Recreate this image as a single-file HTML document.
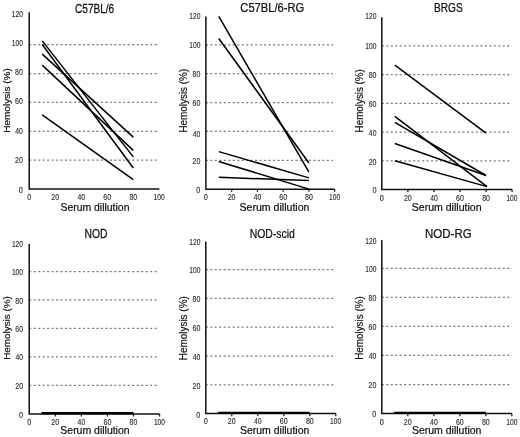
<!DOCTYPE html><html><head><meta charset="utf-8"><style>html,body{margin:0;padding:0;background:#fff;}svg{display:block;will-change:transform;filter:blur(0.3px);}text{font-family:"Liberation Sans",sans-serif;}</style></head><body>
<svg width="520" height="437" viewBox="0 0 520 437">
<rect width="520" height="437" fill="#fff"/>
<line x1="29.1" y1="160.2" x2="157.8" y2="160.2" stroke="#808080" stroke-width="1.25" stroke-dasharray="2.2 2.28"/>
<line x1="29.1" y1="131.3" x2="157.8" y2="131.3" stroke="#808080" stroke-width="1.25" stroke-dasharray="2.2 2.28"/>
<line x1="29.1" y1="102.4" x2="157.8" y2="102.4" stroke="#808080" stroke-width="1.25" stroke-dasharray="2.2 2.28"/>
<line x1="29.1" y1="73.5" x2="157.8" y2="73.5" stroke="#808080" stroke-width="1.25" stroke-dasharray="2.2 2.28"/>
<line x1="29.1" y1="44.6" x2="157.8" y2="44.6" stroke="#808080" stroke-width="1.25" stroke-dasharray="2.2 2.28"/>
<path d="M29.2 12.2 V189.1 H159.3" fill="none" stroke="#111" stroke-width="1.5"/>
<line x1="42.21" y1="40.9" x2="133.28" y2="156.9" stroke="#000" stroke-width="1.5"/>
<line x1="42.21" y1="44.5" x2="133.28" y2="168" stroke="#000" stroke-width="1.5"/>
<line x1="42.21" y1="54.1" x2="133.28" y2="137.1" stroke="#000" stroke-width="1.5"/>
<line x1="42.21" y1="65.1" x2="133.28" y2="150.4" stroke="#000" stroke-width="1.5"/>
<line x1="42.21" y1="114.8" x2="133.28" y2="179.7" stroke="#000" stroke-width="1.5"/>
<text transform="translate(11.69,16.62) scale(0.7902,1)" font-size="8.475" fill="#2a2a2a" stroke="#2a2a2a" stroke-width="0.12">120</text>
<text transform="translate(11.69,45.72) scale(0.7902,1)" font-size="8.475" fill="#2a2a2a" stroke="#2a2a2a" stroke-width="0.12">100</text>
<text transform="translate(15.1,74.92) scale(0.8249,1)" font-size="8.475" fill="#2a2a2a" stroke="#2a2a2a" stroke-width="0.12">80</text>
<text transform="translate(15.04,104.32) scale(0.8313,1)" font-size="8.475" fill="#2a2a2a" stroke="#2a2a2a" stroke-width="0.12">60</text>
<text transform="translate(15.24,134.12) scale(0.8091,1)" font-size="8.475" fill="#2a2a2a" stroke="#2a2a2a" stroke-width="0.12">40</text>
<text transform="translate(15.05,163.22) scale(0.8305,1)" font-size="8.475" fill="#2a2a2a" stroke="#2a2a2a" stroke-width="0.12">20</text>
<text transform="translate(18.81,192.92) scale(0.8640,1)" font-size="8.475" fill="#2a2a2a" stroke="#2a2a2a" stroke-width="0.12">0</text>
<text transform="translate(27.16,200.12) scale(0.8640,1)" font-size="8.475" fill="#2a2a2a" stroke="#2a2a2a" stroke-width="0.12">0</text>
<text transform="translate(51.27,200.12) scale(0.8305,1)" font-size="8.475" fill="#2a2a2a" stroke="#2a2a2a" stroke-width="0.12">20</text>
<text transform="translate(77.48,200.12) scale(0.8091,1)" font-size="8.475" fill="#2a2a2a" stroke="#2a2a2a" stroke-width="0.12">40</text>
<text transform="translate(103.3,200.12) scale(0.8313,1)" font-size="8.475" fill="#2a2a2a" stroke="#2a2a2a" stroke-width="0.12">60</text>
<text transform="translate(129.38,200.12) scale(0.8249,1)" font-size="8.475" fill="#2a2a2a" stroke="#2a2a2a" stroke-width="0.12">80</text>
<text transform="translate(153.59,200.12) scale(0.7902,1)" font-size="8.475" fill="#2a2a2a" stroke="#2a2a2a" stroke-width="0.12">100</text>
<text transform="translate(75.09,12.58) scale(0.8253,1)" font-size="12.177" fill="#111" stroke="#111" stroke-width="0.25">C57BL/6</text>
<text transform="translate(9.85,132.82) rotate(-90) scale(1.0188,1)" font-size="9.861" fill="#111" stroke="#111" stroke-width="0.2">Hemolysis (%)</text>
<text transform="translate(60.42,211.19) scale(0.9359,1)" font-size="11.156" fill="#111" stroke="#111" stroke-width="0.22">Serum dillution</text>
<line x1="205.8" y1="160.32" x2="333.1" y2="160.32" stroke="#808080" stroke-width="1.25" stroke-dasharray="2.2 2.28"/>
<line x1="205.8" y1="131.44" x2="333.1" y2="131.44" stroke="#808080" stroke-width="1.25" stroke-dasharray="2.2 2.28"/>
<line x1="205.8" y1="102.56" x2="333.1" y2="102.56" stroke="#808080" stroke-width="1.25" stroke-dasharray="2.2 2.28"/>
<line x1="205.8" y1="73.68" x2="333.1" y2="73.68" stroke="#808080" stroke-width="1.25" stroke-dasharray="2.2 2.28"/>
<line x1="205.8" y1="44.8" x2="333.1" y2="44.8" stroke="#808080" stroke-width="1.25" stroke-dasharray="2.2 2.28"/>
<path d="M205.9 16.5 V189.2 H334.6" fill="none" stroke="#111" stroke-width="1.5"/>
<line x1="231.66" y1="189.2" x2="231.66" y2="191.8" stroke="#111" stroke-width="1.2"/>
<line x1="257.42" y1="189.2" x2="257.42" y2="191.8" stroke="#111" stroke-width="1.2"/>
<line x1="283.18" y1="189.2" x2="283.18" y2="191.8" stroke="#111" stroke-width="1.2"/>
<line x1="308.94" y1="189.2" x2="308.94" y2="191.8" stroke="#111" stroke-width="1.2"/>
<line x1="334.7" y1="189.2" x2="334.7" y2="191.8" stroke="#111" stroke-width="1.2"/>
<line x1="218.78" y1="16.4" x2="308.94" y2="172.1" stroke="#000" stroke-width="1.5"/>
<line x1="218.78" y1="38.5" x2="308.94" y2="163" stroke="#000" stroke-width="1.5"/>
<line x1="218.78" y1="151.6" x2="308.94" y2="177.9" stroke="#000" stroke-width="1.5"/>
<line x1="218.78" y1="161.5" x2="308.94" y2="189.1" stroke="#000" stroke-width="1.5"/>
<line x1="218.78" y1="177.3" x2="308.94" y2="180.6" stroke="#000" stroke-width="1.5"/>
<text transform="translate(189.19,18.72) scale(0.7902,1)" font-size="8.475" fill="#2a2a2a" stroke="#2a2a2a" stroke-width="0.12">120</text>
<text transform="translate(189.19,48.22) scale(0.7902,1)" font-size="8.475" fill="#2a2a2a" stroke="#2a2a2a" stroke-width="0.12">100</text>
<text transform="translate(192.6,77.32) scale(0.8249,1)" font-size="8.475" fill="#2a2a2a" stroke="#2a2a2a" stroke-width="0.12">80</text>
<text transform="translate(192.54,106.12) scale(0.8313,1)" font-size="8.475" fill="#2a2a2a" stroke="#2a2a2a" stroke-width="0.12">60</text>
<text transform="translate(192.74,136.92) scale(0.8091,1)" font-size="8.475" fill="#2a2a2a" stroke="#2a2a2a" stroke-width="0.12">40</text>
<text transform="translate(192.55,164.12) scale(0.8305,1)" font-size="8.475" fill="#2a2a2a" stroke="#2a2a2a" stroke-width="0.12">20</text>
<text transform="translate(196.31,192.82) scale(0.8640,1)" font-size="8.475" fill="#2a2a2a" stroke="#2a2a2a" stroke-width="0.12">0</text>
<text transform="translate(203.86,200.12) scale(0.8640,1)" font-size="8.475" fill="#2a2a2a" stroke="#2a2a2a" stroke-width="0.12">0</text>
<text transform="translate(227.71,200.12) scale(0.8305,1)" font-size="8.475" fill="#2a2a2a" stroke="#2a2a2a" stroke-width="0.12">20</text>
<text transform="translate(253.66,200.12) scale(0.8091,1)" font-size="8.475" fill="#2a2a2a" stroke="#2a2a2a" stroke-width="0.12">40</text>
<text transform="translate(279.22,200.12) scale(0.8313,1)" font-size="8.475" fill="#2a2a2a" stroke="#2a2a2a" stroke-width="0.12">60</text>
<text transform="translate(305.04,200.12) scale(0.8249,1)" font-size="8.475" fill="#2a2a2a" stroke="#2a2a2a" stroke-width="0.12">80</text>
<text transform="translate(328.99,200.12) scale(0.7902,1)" font-size="8.475" fill="#2a2a2a" stroke="#2a2a2a" stroke-width="0.12">100</text>
<text transform="translate(240.33,11.67) scale(0.8932,1)" font-size="12.517" fill="#111" stroke="#111" stroke-width="0.25">C57BL/6-RG</text>
<text transform="translate(186.97,132.61) rotate(-90) scale(0.9254,1)" font-size="10.718" fill="#111" stroke="#111" stroke-width="0.2">Hemolysis (%)</text>
<text transform="translate(239.51,210.89) scale(0.9497,1)" font-size="11.156" fill="#111" stroke="#111" stroke-width="0.22">Serum dillution</text>
<line x1="381.7" y1="160.75" x2="510.6" y2="160.75" stroke="#808080" stroke-width="1.25" stroke-dasharray="2.2 2.28"/>
<line x1="381.7" y1="132" x2="510.6" y2="132" stroke="#808080" stroke-width="1.25" stroke-dasharray="2.2 2.28"/>
<line x1="381.7" y1="103.25" x2="510.6" y2="103.25" stroke="#808080" stroke-width="1.25" stroke-dasharray="2.2 2.28"/>
<line x1="381.7" y1="74.5" x2="510.6" y2="74.5" stroke="#808080" stroke-width="1.25" stroke-dasharray="2.2 2.28"/>
<line x1="381.7" y1="45.75" x2="510.6" y2="45.75" stroke="#808080" stroke-width="1.25" stroke-dasharray="2.2 2.28"/>
<path d="M381.8 17.2 V189.5 H512.1" fill="none" stroke="#111" stroke-width="1.5"/>
<line x1="407.86" y1="189.5" x2="407.86" y2="192.1" stroke="#111" stroke-width="1.2"/>
<line x1="433.92" y1="189.5" x2="433.92" y2="192.1" stroke="#111" stroke-width="1.2"/>
<line x1="459.98" y1="189.5" x2="459.98" y2="192.1" stroke="#111" stroke-width="1.2"/>
<line x1="486.04" y1="189.5" x2="486.04" y2="192.1" stroke="#111" stroke-width="1.2"/>
<line x1="512.1" y1="189.5" x2="512.1" y2="192.1" stroke="#111" stroke-width="1.2"/>
<line x1="394.83" y1="65.1" x2="486.04" y2="133.1" stroke="#000" stroke-width="1.5"/>
<line x1="394.83" y1="116.4" x2="487" y2="186.6" stroke="#000" stroke-width="1.5"/>
<line x1="394.83" y1="122.4" x2="486.04" y2="175.5" stroke="#000" stroke-width="1.5"/>
<line x1="394.83" y1="143.5" x2="486.04" y2="175.5" stroke="#000" stroke-width="1.5"/>
<line x1="394.83" y1="160.7" x2="487" y2="186.6" stroke="#000" stroke-width="1.5"/>
<text transform="translate(365.29,19.12) scale(0.7902,1)" font-size="8.475" fill="#2a2a2a" stroke="#2a2a2a" stroke-width="0.12">120</text>
<text transform="translate(365.29,48.92) scale(0.7902,1)" font-size="8.475" fill="#2a2a2a" stroke="#2a2a2a" stroke-width="0.12">100</text>
<text transform="translate(368.7,78.22) scale(0.8249,1)" font-size="8.475" fill="#2a2a2a" stroke="#2a2a2a" stroke-width="0.12">80</text>
<text transform="translate(368.64,106.62) scale(0.8313,1)" font-size="8.475" fill="#2a2a2a" stroke="#2a2a2a" stroke-width="0.12">60</text>
<text transform="translate(368.84,136.02) scale(0.8091,1)" font-size="8.475" fill="#2a2a2a" stroke="#2a2a2a" stroke-width="0.12">40</text>
<text transform="translate(368.65,164.52) scale(0.8305,1)" font-size="8.475" fill="#2a2a2a" stroke="#2a2a2a" stroke-width="0.12">20</text>
<text transform="translate(372.41,192.92) scale(0.8640,1)" font-size="8.475" fill="#2a2a2a" stroke="#2a2a2a" stroke-width="0.12">0</text>
<text transform="translate(379.76,200.72) scale(0.8640,1)" font-size="8.475" fill="#2a2a2a" stroke="#2a2a2a" stroke-width="0.12">0</text>
<text transform="translate(403.91,200.72) scale(0.8305,1)" font-size="8.475" fill="#2a2a2a" stroke="#2a2a2a" stroke-width="0.12">20</text>
<text transform="translate(430.16,200.72) scale(0.8091,1)" font-size="8.475" fill="#2a2a2a" stroke="#2a2a2a" stroke-width="0.12">40</text>
<text transform="translate(456.02,200.72) scale(0.8313,1)" font-size="8.475" fill="#2a2a2a" stroke="#2a2a2a" stroke-width="0.12">60</text>
<text transform="translate(482.14,200.72) scale(0.8249,1)" font-size="8.475" fill="#2a2a2a" stroke="#2a2a2a" stroke-width="0.12">80</text>
<text transform="translate(506.39,200.72) scale(0.7902,1)" font-size="8.475" fill="#2a2a2a" stroke="#2a2a2a" stroke-width="0.12">100</text>
<text transform="translate(433.97,11.88) scale(0.8336,1)" font-size="12.147" fill="#111" stroke="#111" stroke-width="0.25">BRGS</text>
<text transform="translate(362.82,132.41) rotate(-90) scale(0.9368,1)" font-size="10.504" fill="#111" stroke="#111" stroke-width="0.2">Hemolysis (%)</text>
<text transform="translate(411.71,210.89) scale(0.9469,1)" font-size="11.156" fill="#111" stroke="#111" stroke-width="0.22">Serum dillution</text>
<line x1="29.1" y1="385.42" x2="158.1" y2="385.42" stroke="#808080" stroke-width="1.25" stroke-dasharray="2.2 2.28"/>
<line x1="29.1" y1="356.94" x2="158.1" y2="356.94" stroke="#808080" stroke-width="1.25" stroke-dasharray="2.2 2.28"/>
<line x1="29.1" y1="328.46" x2="158.1" y2="328.46" stroke="#808080" stroke-width="1.25" stroke-dasharray="2.2 2.28"/>
<line x1="29.1" y1="299.98" x2="158.1" y2="299.98" stroke="#808080" stroke-width="1.25" stroke-dasharray="2.2 2.28"/>
<line x1="29.1" y1="271.5" x2="158.1" y2="271.5" stroke="#808080" stroke-width="1.25" stroke-dasharray="2.2 2.28"/>
<path d="M29.2 244 V413.9 H159.6" fill="none" stroke="#111" stroke-width="1.5"/>
<line x1="55.28" y1="413.9" x2="55.28" y2="416.5" stroke="#111" stroke-width="1.2"/>
<line x1="81.36" y1="413.9" x2="81.36" y2="416.5" stroke="#111" stroke-width="1.2"/>
<line x1="107.44" y1="413.9" x2="107.44" y2="416.5" stroke="#111" stroke-width="1.2"/>
<line x1="133.52" y1="413.9" x2="133.52" y2="416.5" stroke="#111" stroke-width="1.2"/>
<line x1="159.6" y1="413.9" x2="159.6" y2="416.5" stroke="#111" stroke-width="1.2"/>
<line x1="41.44" y1="413.1" x2="133.52" y2="413.1" stroke="#000" stroke-width="2.2"/>
<text transform="translate(11.89,247.32) scale(0.7902,1)" font-size="8.475" fill="#2a2a2a" stroke="#2a2a2a" stroke-width="0.12">120</text>
<text transform="translate(11.89,275.12) scale(0.7902,1)" font-size="8.475" fill="#2a2a2a" stroke="#2a2a2a" stroke-width="0.12">100</text>
<text transform="translate(15.3,303.72) scale(0.8249,1)" font-size="8.475" fill="#2a2a2a" stroke="#2a2a2a" stroke-width="0.12">80</text>
<text transform="translate(15.24,332.12) scale(0.8313,1)" font-size="8.475" fill="#2a2a2a" stroke="#2a2a2a" stroke-width="0.12">60</text>
<text transform="translate(15.44,360.22) scale(0.8091,1)" font-size="8.475" fill="#2a2a2a" stroke="#2a2a2a" stroke-width="0.12">40</text>
<text transform="translate(15.25,389.42) scale(0.8305,1)" font-size="8.475" fill="#2a2a2a" stroke="#2a2a2a" stroke-width="0.12">20</text>
<text transform="translate(19.01,417.52) scale(0.8640,1)" font-size="8.475" fill="#2a2a2a" stroke="#2a2a2a" stroke-width="0.12">0</text>
<text transform="translate(27.16,425.12) scale(0.8640,1)" font-size="8.475" fill="#2a2a2a" stroke="#2a2a2a" stroke-width="0.12">0</text>
<text transform="translate(51.33,425.12) scale(0.8305,1)" font-size="8.475" fill="#2a2a2a" stroke="#2a2a2a" stroke-width="0.12">20</text>
<text transform="translate(77.6,425.12) scale(0.8091,1)" font-size="8.475" fill="#2a2a2a" stroke="#2a2a2a" stroke-width="0.12">40</text>
<text transform="translate(103.48,425.12) scale(0.8313,1)" font-size="8.475" fill="#2a2a2a" stroke="#2a2a2a" stroke-width="0.12">60</text>
<text transform="translate(129.62,425.12) scale(0.8249,1)" font-size="8.475" fill="#2a2a2a" stroke="#2a2a2a" stroke-width="0.12">80</text>
<text transform="translate(153.89,425.12) scale(0.7902,1)" font-size="8.475" fill="#2a2a2a" stroke="#2a2a2a" stroke-width="0.12">100</text>
<text transform="translate(84.45,237.88) scale(0.8345,1)" font-size="12.429" fill="#111" stroke="#111" stroke-width="0.25">NOD</text>
<text transform="translate(9.67,359.81) rotate(-90) scale(1.0137,1)" font-size="9.753" fill="#111" stroke="#111" stroke-width="0.2">Hemolysis (%)</text>
<text transform="translate(60.32,434.19) scale(0.9400,1)" font-size="11.156" fill="#111" stroke="#111" stroke-width="0.22">Serum dillution</text>
<line x1="205.7" y1="384.8" x2="334.3" y2="384.8" stroke="#808080" stroke-width="1.25" stroke-dasharray="2.2 2.28"/>
<line x1="205.7" y1="356" x2="334.3" y2="356" stroke="#808080" stroke-width="1.25" stroke-dasharray="2.2 2.28"/>
<line x1="205.7" y1="327.2" x2="334.3" y2="327.2" stroke="#808080" stroke-width="1.25" stroke-dasharray="2.2 2.28"/>
<line x1="205.7" y1="298.4" x2="334.3" y2="298.4" stroke="#808080" stroke-width="1.25" stroke-dasharray="2.2 2.28"/>
<line x1="205.7" y1="269.6" x2="334.3" y2="269.6" stroke="#808080" stroke-width="1.25" stroke-dasharray="2.2 2.28"/>
<path d="M205.8 241.5 V413.6 H335.8" fill="none" stroke="#111" stroke-width="1.5"/>
<line x1="231.8" y1="413.6" x2="231.8" y2="416.2" stroke="#111" stroke-width="1.2"/>
<line x1="257.8" y1="413.6" x2="257.8" y2="416.2" stroke="#111" stroke-width="1.2"/>
<line x1="283.8" y1="413.6" x2="283.8" y2="416.2" stroke="#111" stroke-width="1.2"/>
<line x1="309.8" y1="413.6" x2="309.8" y2="416.2" stroke="#111" stroke-width="1.2"/>
<line x1="335.8" y1="413.6" x2="335.8" y2="416.2" stroke="#111" stroke-width="1.2"/>
<line x1="218" y1="412.8" x2="309.8" y2="412.8" stroke="#000" stroke-width="2.2"/>
<text transform="translate(189.19,245.12) scale(0.7902,1)" font-size="8.475" fill="#2a2a2a" stroke="#2a2a2a" stroke-width="0.12">120</text>
<text transform="translate(189.19,273.22) scale(0.7902,1)" font-size="8.475" fill="#2a2a2a" stroke="#2a2a2a" stroke-width="0.12">100</text>
<text transform="translate(192.6,302.02) scale(0.8249,1)" font-size="8.475" fill="#2a2a2a" stroke="#2a2a2a" stroke-width="0.12">80</text>
<text transform="translate(192.54,330.92) scale(0.8313,1)" font-size="8.475" fill="#2a2a2a" stroke="#2a2a2a" stroke-width="0.12">60</text>
<text transform="translate(192.74,359.92) scale(0.8091,1)" font-size="8.475" fill="#2a2a2a" stroke="#2a2a2a" stroke-width="0.12">40</text>
<text transform="translate(192.55,388.82) scale(0.8305,1)" font-size="8.475" fill="#2a2a2a" stroke="#2a2a2a" stroke-width="0.12">20</text>
<text transform="translate(196.31,417.52) scale(0.8640,1)" font-size="8.475" fill="#2a2a2a" stroke="#2a2a2a" stroke-width="0.12">0</text>
<text transform="translate(203.76,424.12) scale(0.8640,1)" font-size="8.475" fill="#2a2a2a" stroke="#2a2a2a" stroke-width="0.12">0</text>
<text transform="translate(227.85,424.12) scale(0.8305,1)" font-size="8.475" fill="#2a2a2a" stroke="#2a2a2a" stroke-width="0.12">20</text>
<text transform="translate(254.04,424.12) scale(0.8091,1)" font-size="8.475" fill="#2a2a2a" stroke="#2a2a2a" stroke-width="0.12">40</text>
<text transform="translate(279.84,424.12) scale(0.8313,1)" font-size="8.475" fill="#2a2a2a" stroke="#2a2a2a" stroke-width="0.12">60</text>
<text transform="translate(305.9,424.12) scale(0.8249,1)" font-size="8.475" fill="#2a2a2a" stroke="#2a2a2a" stroke-width="0.12">80</text>
<text transform="translate(330.09,424.12) scale(0.7902,1)" font-size="8.475" fill="#2a2a2a" stroke="#2a2a2a" stroke-width="0.12">100</text>
<text transform="translate(249.75,237.67) scale(0.7973,1)" font-size="13.061" fill="#111" stroke="#111" stroke-width="0.25">NOD-scid</text>
<text transform="translate(187.04,360.22) rotate(-90) scale(0.9571,1)" font-size="10.397" fill="#111" stroke="#111" stroke-width="0.2">Hemolysis (%)</text>
<text transform="translate(239.92,434.19) scale(0.9414,1)" font-size="11.156" fill="#111" stroke="#111" stroke-width="0.22">Serum dillution</text>
<line x1="381.7" y1="384.54" x2="510.4" y2="384.54" stroke="#808080" stroke-width="1.25" stroke-dasharray="2.2 2.28"/>
<line x1="381.7" y1="355.48" x2="510.4" y2="355.48" stroke="#808080" stroke-width="1.25" stroke-dasharray="2.2 2.28"/>
<line x1="381.7" y1="326.42" x2="510.4" y2="326.42" stroke="#808080" stroke-width="1.25" stroke-dasharray="2.2 2.28"/>
<line x1="381.7" y1="297.36" x2="510.4" y2="297.36" stroke="#808080" stroke-width="1.25" stroke-dasharray="2.2 2.28"/>
<line x1="381.7" y1="268.3" x2="510.4" y2="268.3" stroke="#808080" stroke-width="1.25" stroke-dasharray="2.2 2.28"/>
<path d="M381.8 240.1 V413.6 H511.9" fill="none" stroke="#111" stroke-width="1.5"/>
<line x1="407.82" y1="413.6" x2="407.82" y2="416.2" stroke="#111" stroke-width="1.2"/>
<line x1="433.84" y1="413.6" x2="433.84" y2="416.2" stroke="#111" stroke-width="1.2"/>
<line x1="459.86" y1="413.6" x2="459.86" y2="416.2" stroke="#111" stroke-width="1.2"/>
<line x1="485.88" y1="413.6" x2="485.88" y2="416.2" stroke="#111" stroke-width="1.2"/>
<line x1="511.9" y1="413.6" x2="511.9" y2="416.2" stroke="#111" stroke-width="1.2"/>
<line x1="394.01" y1="412.8" x2="485.88" y2="412.8" stroke="#000" stroke-width="2.2"/>
<text transform="translate(365.19,243.72) scale(0.7902,1)" font-size="8.475" fill="#2a2a2a" stroke="#2a2a2a" stroke-width="0.12">120</text>
<text transform="translate(365.19,272.12) scale(0.7902,1)" font-size="8.475" fill="#2a2a2a" stroke="#2a2a2a" stroke-width="0.12">100</text>
<text transform="translate(368.6,301.32) scale(0.8249,1)" font-size="8.475" fill="#2a2a2a" stroke="#2a2a2a" stroke-width="0.12">80</text>
<text transform="translate(368.54,329.72) scale(0.8313,1)" font-size="8.475" fill="#2a2a2a" stroke="#2a2a2a" stroke-width="0.12">60</text>
<text transform="translate(368.74,359.22) scale(0.8091,1)" font-size="8.475" fill="#2a2a2a" stroke="#2a2a2a" stroke-width="0.12">40</text>
<text transform="translate(368.55,388.42) scale(0.8305,1)" font-size="8.475" fill="#2a2a2a" stroke="#2a2a2a" stroke-width="0.12">20</text>
<text transform="translate(372.31,417.22) scale(0.8640,1)" font-size="8.475" fill="#2a2a2a" stroke="#2a2a2a" stroke-width="0.12">0</text>
<text transform="translate(379.76,424.52) scale(0.8640,1)" font-size="8.475" fill="#2a2a2a" stroke="#2a2a2a" stroke-width="0.12">0</text>
<text transform="translate(403.87,424.52) scale(0.8305,1)" font-size="8.475" fill="#2a2a2a" stroke="#2a2a2a" stroke-width="0.12">20</text>
<text transform="translate(430.08,424.52) scale(0.8091,1)" font-size="8.475" fill="#2a2a2a" stroke="#2a2a2a" stroke-width="0.12">40</text>
<text transform="translate(455.9,424.52) scale(0.8313,1)" font-size="8.475" fill="#2a2a2a" stroke="#2a2a2a" stroke-width="0.12">60</text>
<text transform="translate(481.98,424.52) scale(0.8249,1)" font-size="8.475" fill="#2a2a2a" stroke="#2a2a2a" stroke-width="0.12">80</text>
<text transform="translate(506.19,424.52) scale(0.7902,1)" font-size="8.475" fill="#2a2a2a" stroke="#2a2a2a" stroke-width="0.12">100</text>
<text transform="translate(425.06,237.98) scale(0.9247,1)" font-size="12.429" fill="#111" stroke="#111" stroke-width="0.25">NOD-RG</text>
<text transform="translate(363.04,359.81) rotate(-90) scale(0.9495,1)" font-size="10.397" fill="#111" stroke="#111" stroke-width="0.2">Hemolysis (%)</text>
<text transform="translate(411.92,434.19) scale(0.9428,1)" font-size="11.156" fill="#111" stroke="#111" stroke-width="0.22">Serum dillution</text>
</svg></body></html>
